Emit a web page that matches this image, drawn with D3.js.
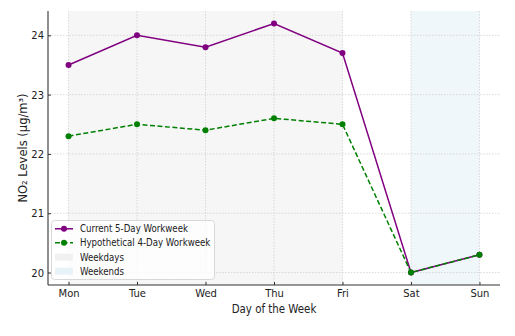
<!DOCTYPE html>
<html><head><meta charset="utf-8">
<script src="https://cdn.jsdelivr.net/npm/d3@7"></script>
<style>body{margin:0;background:#fff;} svg{display:block;font-family:"DejaVu Sans",sans-serif;}
.cond{font-family:"DejaVu Sans Condensed","DejaVu Sans",sans-serif;font-stretch:condensed;}</style>
</head><body>
<svg id="c" width="515" height="336"></svg>
<script>
const days = ["Mon","Tue","Wed","Thu","Fri","Sat","Sun"];
const current = [23.5, 24.0, 23.8, 24.2, 23.7, 20.0, 20.3];
const hypothetical = [22.3, 22.5, 22.4, 22.6, 22.5, 20.0, 20.3];
const yTicks = [20, 21, 22, 23, 24];
const seriesNames = ["Current 5-Day Workweek", "Hypothetical 4-Day Workweek"];
const spanNames = ["Weekdays", "Weekends"];
const weekdaySpan = [0, 4];
const weekendSpan = [5, 6];

const svg = d3.select("#c");
const L = 48, R = 500, T = 11, B = 285;
const x = d3.scaleLinear().domain([-0.3, 6.3]).range([L, R]);
const y = d3.scaleLinear().domain([19.79, 24.41]).range([B, T]);

const purple = "#800080", green = "#008000";
const grayFill = "#f6f6f6", blueFill = "#eff7fa";

// spans
svg.append("rect").attr("x", x(weekdaySpan[0])).attr("y", T)
  .attr("width", x(weekdaySpan[1]) - x(weekdaySpan[0])).attr("height", B - T).attr("fill", grayFill);
svg.append("rect").attr("x", x(weekendSpan[0])).attr("y", T)
  .attr("width", x(weekendSpan[1]) - x(weekendSpan[0])).attr("height", B - T).attr("fill", blueFill);

// grid
const g = svg.append("g");
days.forEach((d, i) => {
  g.append("line").attr("x1", x(i)).attr("x2", x(i)).attr("y1", T).attr("y2", B)
    .attr("stroke", "#d0d0d0").attr("stroke-width", 0.8).attr("stroke-dasharray", "1.5,1.5");
});
yTicks.forEach(v => {
  g.append("line").attr("x1", L).attr("x2", R).attr("y1", y(v)).attr("y2", y(v))
    .attr("stroke", "#d0d0d0").attr("stroke-width", 0.8).attr("stroke-dasharray", "1.5,1.5");
});

// axes
const xAxis = d3.axisBottom(x).tickValues(d3.range(days.length)).tickFormat(i => days[i]).tickSizeInner(-3).tickSizeOuter(0).tickPadding(4.5);
const yAxis = d3.axisLeft(y).tickValues(yTicks).tickFormat(d3.format("d")).tickSizeInner(-3).tickSizeOuter(0).tickPadding(4);
const xa = svg.append("g").attr("transform", `translate(0,${B})`).call(xAxis);
const ya = svg.append("g").attr("transform", `translate(${L},0)`).call(yAxis);
[xa, ya].forEach(a => {
  a.select(".domain").attr("stroke", "#333").attr("stroke-width", 1.1);
  a.selectAll(".tick line").attr("stroke", "#333");
  a.selectAll(".tick text").attr("fill", "#222").attr("font-size", "11.1px").attr("font-family", null).attr("class", "cond");
});
ya.select(".domain").attr("d", `M0,${T}V${B}`);
xa.select(".domain").attr("d", `M${L},0H${R}`);

// lines
const line = d3.line().x((d, i) => x(i)).y(d => y(d));
svg.append("path").datum(current).attr("d", line).attr("fill", "none").attr("stroke", purple).attr("stroke-width", 1.5);
svg.selectAll(".pc").data(current).enter().append("circle").attr("cx", (d, i) => x(i)).attr("cy", d => y(d)).attr("r", 3).attr("fill", purple);
svg.append("path").datum(hypothetical).attr("d", line).attr("fill", "none").attr("stroke", green).attr("stroke-width", 1.5).attr("stroke-dasharray", "5,2.5");
svg.selectAll(".ph").data(hypothetical).enter().append("circle").attr("cx", (d, i) => x(i)).attr("cy", d => y(d)).attr("r", 3).attr("fill", green);

// axis labels
svg.append("text").attr("class", "cond").attr("x", (L + R) / 2).attr("y", 313).attr("text-anchor", "middle")
  .attr("font-size", "11.4px").attr("fill", "#222").text("Day of the Week");
svg.append("text").attr("transform", `translate(27,${(T + B) / 2}) rotate(-90)`).attr("text-anchor", "middle")
  .attr("font-size", "11.5px").attr("fill", "#222").text("NO₂ Levels (μg/m³)");

// legend
const lg = svg.append("g");
lg.append("rect").attr("x", 51.5).attr("y", 220.5).attr("width", 163).attr("height", 59).attr("rx", 3)
  .attr("fill", "#fff").attr("fill-opacity", 0.8).attr("stroke", "#d8d8d8").attr("stroke-width", 1);
const rows = [228.8, 242.8, 257.2, 271.2];
const hx0 = 55, hx1 = 73, tx = 80;
lg.append("line").attr("x1", hx0).attr("x2", hx1).attr("y1", rows[0]).attr("y2", rows[0]).attr("stroke", purple).attr("stroke-width", 1.5);
lg.append("circle").attr("cx", (hx0 + hx1) / 2).attr("cy", rows[0]).attr("r", 3).attr("fill", purple);
lg.append("line").attr("x1", hx0).attr("x2", hx1).attr("y1", rows[1]).attr("y2", rows[1]).attr("stroke", green).attr("stroke-width", 1.5).attr("stroke-dasharray", "5,2.5");
lg.append("circle").attr("cx", (hx0 + hx1) / 2).attr("cy", rows[1]).attr("r", 3).attr("fill", green);
lg.append("rect").attr("x", hx0).attr("y", rows[2] - 3.5).attr("width", hx1 - hx0).attr("height", 7).attr("fill", "#f1f1f1");
lg.append("rect").attr("x", hx0).attr("y", rows[3] - 3.5).attr("width", hx1 - hx0).attr("height", 7).attr("fill", "#e7f3f8");
const labels = seriesNames.concat(spanNames);
labels.forEach((t, i) => {
  lg.append("text").attr("class", "cond").attr("x", tx).attr("y", rows[i]).attr("dy", "0.35em").attr("font-size", "9.6px").attr("fill", "#222").text(t);
});
</script>
</body></html>
